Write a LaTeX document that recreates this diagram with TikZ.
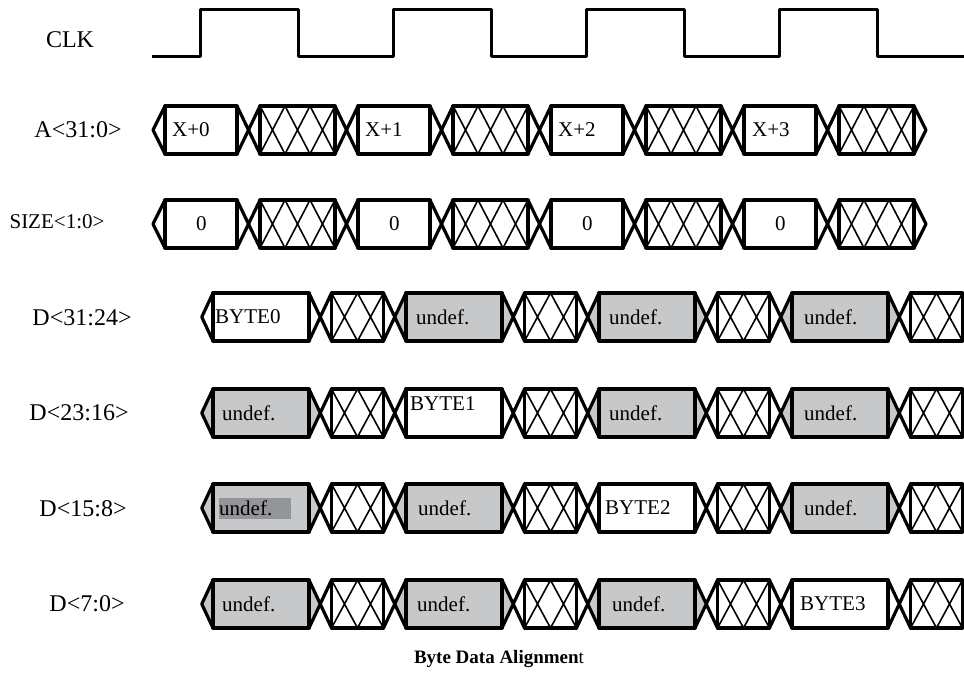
\documentclass[tikz,border=0pt]{standalone}
\usepackage{fontspec}
\setmainfont{Liberation Serif}
\definecolor{undefgray}{RGB}{199,200,202}
\definecolor{selgray}{RGB}{148,149,153}
\tikzset{
  bus/.style={line width=3.2pt, line join=round},
  hatch/.style={line width=1.6pt},
  clkline/.style={line width=3pt, line join=round},
  sig/.style={font=\fontsize{24}{28}\selectfont},
  cell/.style={font=\fontsize{21}{24}\selectfont, inner sep=0pt, anchor=west},
  plain/.style={},
  raised/.style={yshift=9pt},
  selected/.style={fill=selgray, text width=72pt, minimum height=21pt},
}

% address / size bus: #1 top edge, #2 name, #3 cells k/text/offset
\newcommand{\abus}[3]{%
  \pgfmathsetmacro\ymid{#1+24}\pgfmathsetmacro\ybot{#1+48}
  \draw[bus] (165,#1) -- (153,\ymid) -- (165,\ybot);
  \foreach \k/\txt/\dx in {#3}{
    \pgfmathsetmacro\s{165+193*\k}
    \draw[bus] (\s,#1) rectangle (\s+72,\ybot);
    \draw[bus] (\s+72,#1) -- (\s+95,\ybot) (\s+72,\ybot) -- (\s+95,#1);
    \draw[bus] (\s+95,#1) rectangle (\s+170,\ybot);
    \draw[hatch] (\s+95,#1) -- (\s+120,\ybot) -- (\s+145,#1) -- (\s+170,\ybot)
      (\s+95,\ybot) -- (\s+120,#1) -- (\s+145,\ybot) -- (\s+170,#1);
    \ifnum\k<3
      \draw[bus] (\s+170,#1) -- (\s+193,\ybot) (\s+170,\ybot) -- (\s+193,#1);
    \else
      \draw[bus] (\s+170,#1) -- (\s+182,\ymid) -- (\s+170,\ybot);
    \fi
    \node[cell] (#2\k) at (\s+\dx,\ymid) {\txt};
  }
}

% data byte lane: #1 top edge, #2 name, #3 cells k/text/fill/offset/extra
\newcommand{\dbus}[3]{%
  \pgfmathsetmacro\ymid{#1+24}\pgfmathsetmacro\ybot{#1+48}
  \foreach \k/\txt/\shade/\dx/\extra in {#3}{
    \pgfmathsetmacro\s{213+193*\k}
    \fill[\shade] (\s-11.25,\ymid) -- (\s,#1) -- (\s+96,#1) -- (\s+107.25,\ymid)
      -- (\s+96,\ybot) -- (\s,\ybot) -- cycle;
  }
  \draw[bus] (213,#1) -- (201.75,\ymid) -- (213,\ybot);
  \foreach \k/\txt/\shade/\dx/\extra in {#3}{
    \pgfmathsetmacro\s{213+193*\k}
    \draw[bus] (\s,#1) rectangle (\s+96,\ybot);
    \draw[bus] (\s+96,#1) -- (\s+118.5,\ybot) (\s+96,\ybot) -- (\s+118.5,#1);
    \draw[bus] (\s+118.5,#1) rectangle (\s+170.5,\ybot);
    \draw[hatch] (\s+118.5,#1) -- (\s+144.5,\ybot) -- (\s+170.5,#1)
      (\s+118.5,\ybot) -- (\s+144.5,#1) -- (\s+170.5,\ybot);
    \draw[bus] (\s+170.5,#1) -- (\s+193,\ybot) (\s+170.5,\ybot) -- (\s+193,#1);
    \node[cell,\extra] (#2\k) at (\s+\dx,\ymid) {\txt};
  }
}

\begin{document}
\begin{tikzpicture}[x=1pt, y=-1pt]
    \useasboundingbox (0,0) rectangle (964,676);
    \clip (0,0) rectangle (964,676);

    % signal names
    \node[sig] (clk) at (70,40) {CLK};
    \node[sig] (addr) at (78,130) {A<31:0>};
    \node[sig, font=\fontsize{21}{24}\selectfont] (size) at (57,222) {SIZE<1:0>};
    \node[sig] (dhh) at (82,318) {D<31:24>};
    \node[sig] (dhl) at (79,413) {D<23:16>};
    \node[sig] (dlh) at (83,509) {D<15:8>};
    \node[sig] (dll) at (87,604) {D<7:0>};

    % clock
    \draw[clkline] (152,57) \foreach \k in {0,...,3}{
      -- ({200+193*\k},57) -- ({200+193*\k},10) -- ({298+193*\k},10) -- ({298+193*\k},57)}
      -- (964,57);

    \abus{106}{a}{0/X+0/7, 1/X+1/7, 2/X+2/7, 3/X+3/8}
    \abus{200}{sz}{0/0/31, 1/0/31, 2/0/31, 3/0/31}

    \dbus{293}{b3}{0/BYTE0/white/2/plain, 1/undef./undefgray/10/plain,
      2/undef./undefgray/10/plain, 3/undef./undefgray/12/plain}
    \dbus{389}{b2}{0/undef./undefgray/9/plain, 1/BYTE1/white/4/raised,
      2/undef./undefgray/10/plain, 3/undef./undefgray/12/plain}
    \dbus{484}{b1}{0/undef./undefgray/6/selected, 1/undef./undefgray/12/plain,
      2/BYTE2/white/6/plain, 3/undef./undefgray/12/plain}
    \dbus{580}{b0}{0/undef./undefgray/9/plain, 1/undef./undefgray/11/plain,
      2/undef./undefgray/13/plain, 3/BYTE3/white/8/plain}

    \node[font=\fontsize{19}{22}\selectfont] (caption) at (499,659) {\textbf{Byte Data Alignmen}t};
\end{tikzpicture}
\end{document}
